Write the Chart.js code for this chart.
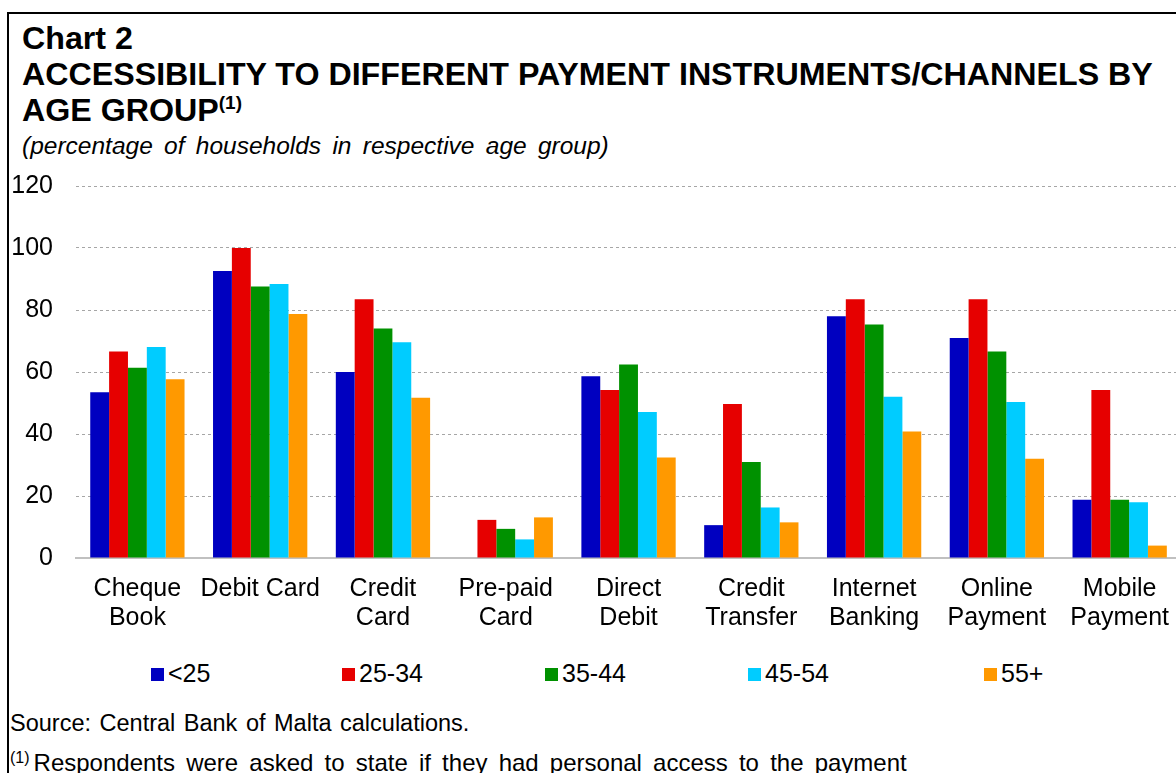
<!DOCTYPE html>
<html>
<head>
<meta charset="utf-8">
<script src="https://cdn.jsdelivr.net/npm/chart.js@4"></script>
<style>
  html, body { margin: 0; padding: 0; width: 1176px; height: 773px; overflow: hidden; background: #fff; font-family: "Liberation Sans", Arial, sans-serif; color: #000; }
  .frame { position: absolute; left: 7px; top: 12px; right: -10px; bottom: -10px; border-left: 2px solid #000; border-top: 2px solid #000; }
  .title { position: absolute; left: 22px; top: 20px; font-weight: bold; font-size: 32.2px; line-height: 36px; white-space: nowrap; }
  .title sup { font-size: 19px; vertical-align: 12px; line-height: 0; }
  .subtitle { position: absolute; left: 22px; top: 132px; font-style: italic; font-size: 24.5px; line-height: 28px; word-spacing: 4.5px; white-space: nowrap; }
  #chartWrap { position: absolute; left: 8px; top: 148px; width: 1178px; height: 500px; }
  .legend { position: absolute; top: 658px; left: 0; width: 1176px; height: 30px; font-size: 25px; }
  .legend span.item { position: absolute; top: 0; line-height: 30px; white-space: nowrap; }
  .legend span.box { display: inline-block; width: 13px; height: 13px; margin-right: 4px; vertical-align: 1px; }
  .source { position: absolute; left: 10px; top: 709px; font-size: 23.5px; line-height: 28px; word-spacing: 2px; white-space: nowrap; }
  .note { position: absolute; left: 10px; top: 749px; font-size: 24px; line-height: 28px; word-spacing: 4.5px; white-space: nowrap; }
  .note sup { font-size: 16px; vertical-align: 8px; line-height: 0; margin-right: 4px; word-spacing: 0; }
</style>
</head>
<body>
<div class="frame"></div>
<div class="title">Chart 2<br>ACCESSIBILITY TO DIFFERENT PAYMENT INSTRUMENTS/CHANNELS BY<br>AGE GROUP<sup>(1)</sup></div>
<div class="subtitle">(percentage of households in respective age group)</div>
<div id="chartWrap"><canvas id="accessChart"></canvas></div>
<div class="legend" id="legend"></div>
<div class="source">Source: Central Bank of Malta calculations.</div>
<div class="note"><sup>(1)</sup>Respondents were asked to state if they had personal access to the payment</div>

<script>
// Kategoriler (iki satirlik etiketler)
const categories = [
    ['Cheque', 'Book'], ['Debit Card'], ['Credit', 'Card'], ['Pre-paid', 'Card'],
    ['Direct', 'Debit'], ['Credit', 'Transfer'], ['Internet', 'Banking'],
    ['Online', 'Payment'], ['Mobile', 'Payment']
];

const ageGroups = ['<25', '25-34', '35-44', '45-54', '55+'];

// Yas gruplarina gore degerler (%)
const under25   = [53.5, 92.6, 60.0, 0,    58.6, 10.6, 78.0, 71.0, 18.8];
const age25to34 = [66.6, 100,  83.5, 12.3, 54.2, 49.7, 83.5, 83.5, 54.2];
const age35to44 = [61.4, 87.6, 74.0, 9.4,  62.4, 31.0, 75.3, 66.6, 18.8];
const age45to54 = [68.1, 88.4, 69.6, 6.0,  47.1, 16.3, 52.0, 50.3, 18.0];
const age55plus = [57.7, 78.7, 51.7, 13.1, 32.4, 11.5, 40.8, 32.0, 4.0];

const yTicks = [0, 20, 40, 60, 80, 100, 120];

const seriesValues = [under25, age25to34, age35to44, age45to54, age55plus];
const seriesColors = ['#0000c0', '#e60000', '#009100', '#00ccff', '#ff9900'];

// legend kutularinin yatay konumlari
const legendLeft = [151, 342, 545, 748, 984];

document.addEventListener('DOMContentLoaded', function() {
    const fontFamily = '"Liberation Sans", Arial, sans-serif';

    const datasets = ageGroups.map((name, i) => ({
        label: name,
        data: seriesValues[i],
        backgroundColor: seriesColors[i],
        borderWidth: 0,
        categoryPercentage: 0.768,
        barPercentage: 1.0
    }));

    const chartElement = document.getElementById('accessChart');
    new Chart(chartElement, {
        type: 'bar',
        data: {
            labels: categories,
            datasets: datasets
        },
        options: {
            responsive: true,
            maintainAspectRatio: false,
            animation: false,
            layout: { padding: { top: 15, right: 0, bottom: 0, left: 0 } },
            plugins: {
                legend: { display: false },
                tooltip: { enabled: false }
            },
            scales: {
                x: {
                    grid: { display: false, drawTicks: false },
                    border: { display: true, color: '#c0c0c0', width: 2 },
                    ticks: {
                        color: '#000',
                        font: { family: fontFamily, size: 25, lineHeight: 1.16 },
                        padding: 17,
                        maxRotation: 0,
                        autoSkip: false
                    },
                    afterFit: function(axis) { axis.height = 90; }
                },
                y: {
                    min: 0,
                    max: 120,
                    afterBuildTicks: function(axis) {
                        axis.ticks = yTicks.map(v => ({ value: v }));
                    },
                    grid: {
                        drawTicks: false,
                        color: ctx => ctx.tick && ctx.tick.value === 0 ? 'rgba(0,0,0,0)' : '#a6a6a6',
                        lineWidth: 1
                    },
                    border: { display: false, dash: [3, 3] },
                    ticks: {
                        color: '#000',
                        font: { family: fontFamily, size: 25 },
                        padding: 23
                    },
                    afterFit: function(axis) { axis.width = 68; }
                }
            }
        }
    });

    // HTML legend
    const legendEl = document.getElementById('legend');
    ageGroups.forEach((name, i) => {
        const item = document.createElement('span');
        item.className = 'item';
        item.style.left = legendLeft[i] + 'px';
        const box = document.createElement('span');
        box.className = 'box';
        box.style.background = seriesColors[i];
        item.appendChild(box);
        item.appendChild(document.createTextNode(name));
        legendEl.appendChild(item);
    });
});
</script>
</body>
</html>
